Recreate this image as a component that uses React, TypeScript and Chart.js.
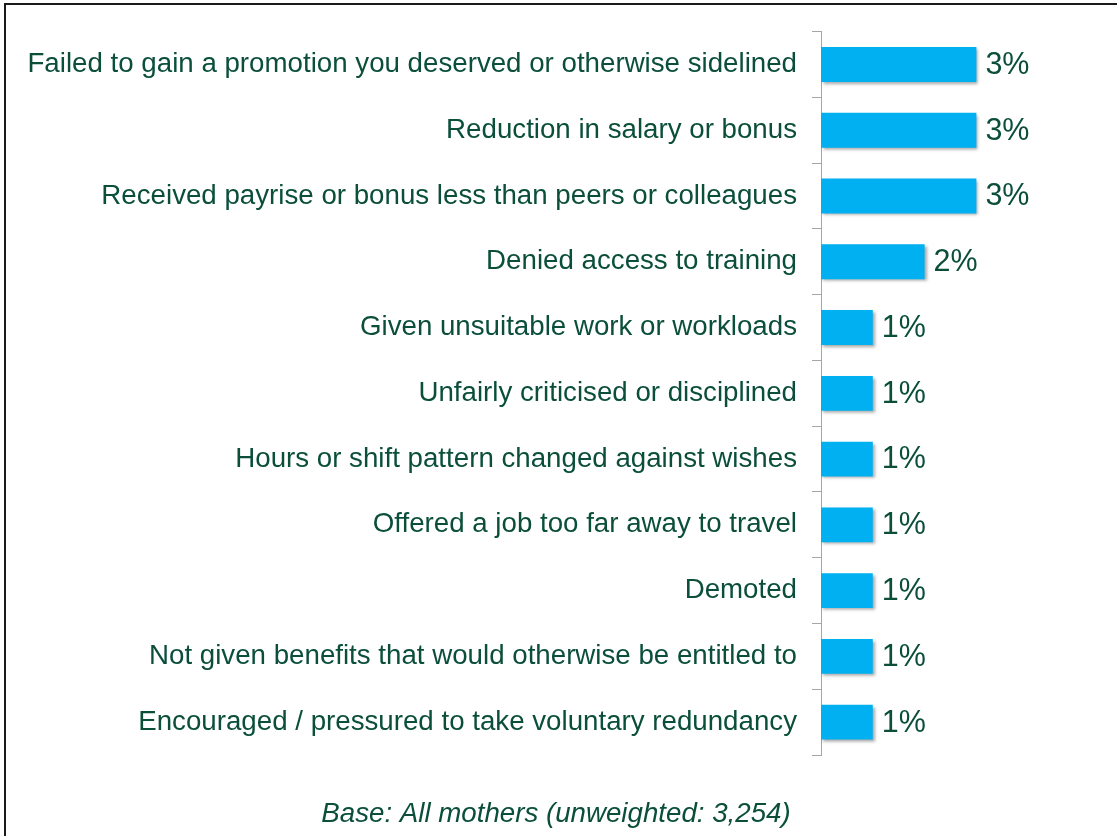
import React, { useEffect, useRef } from "react";
import { Chart, registerables } from "chart.js";

Chart.register(...registerables);

const categories: string[] = [
  "Failed to gain a promotion you deserved or otherwise sidelined",
  "Reduction in salary or bonus",
  "Received payrise or bonus less than peers or colleagues",
  "Denied access to training",
  "Given unsuitable work or workloads",
  "Unfairly criticised or disciplined",
  "Hours or shift pattern changed against wishes",
  "Offered a job too far away to travel",
  "Demoted",
  "Not given benefits that would otherwise be entitled to",
  "Encouraged / pressured to take voluntary redundancy",
];

const values: number[] = [3, 3, 3, 2, 1, 1, 1, 1, 1, 1, 1];

const footerText = "Base: All mothers (unweighted: 3,254)";

const TEXT_COLOR = "#0B4F3B";
const BAR_COLOR = "#00B0F0";
const AXIS_COLOR = "#A6A6A6";
const FONT = "'Liberation Sans', Arial, sans-serif";
const FONT_SIZE = 27.7;
const VALUE_FONT_SIZE = 30.5;

export default function App() {
  const canvasRef = useRef<HTMLCanvasElement | null>(null);

  useEffect(() => {
    document.body.style.margin = "0";
    const canvas = canvasRef.current;
    if (!canvas) return;

    const shadowPlugin = {
      id: "barShadow",
      beforeDatasetsDraw(chart: any) {
        const ctx = chart.ctx;
        ctx.save();
        ctx.shadowColor = "rgba(0,0,0,0.35)";
        ctx.shadowOffsetX = 2;
        ctx.shadowOffsetY = 2;
        ctx.shadowBlur = 3;
      },
      afterDatasetsDraw(chart: any) {
        chart.ctx.restore();
      },
    };

    const valueLabelPlugin = {
      id: "valueLabels",
      afterDatasetsDraw(chart: any) {
        const ctx = chart.ctx;
        const meta = chart.getDatasetMeta(0);
        ctx.save();
        ctx.fillStyle = TEXT_COLOR;
        ctx.font = `${VALUE_FONT_SIZE}px ${FONT}`;
        ctx.textAlign = "left";
        ctx.textBaseline = "middle";
        meta.data.forEach((bar: any, i: number) => {
          ctx.fillText(`${values[i]}%`, bar.x + 9, bar.y + 1);
        });
        ctx.restore();
      },
    };

    const framePlugin = {
      id: "frame",
      afterDraw(chart: any) {
        const ctx = chart.ctx;
        ctx.save();
        ctx.fillStyle = TEXT_COLOR;
        ctx.font = `italic ${FONT_SIZE}px ${FONT}`;
        ctx.textAlign = "center";
        ctx.textBaseline = "middle";
        ctx.fillText(footerText, 556, 814);
        ctx.strokeStyle = "#1a1a1a";
        ctx.lineWidth = 2;
        ctx.beginPath();
        ctx.moveTo(5, 840);
        ctx.lineTo(5, 4);
        ctx.lineTo(1120, 4);
        ctx.stroke();
        ctx.restore();
      },
    };

    const chart = new Chart(canvas, {
      type: "bar",
      data: {
        labels: categories,
        datasets: [
          {
            data: values,
            backgroundColor: BAR_COLOR,
            borderWidth: 0,
            barPercentage: 0.53,
            categoryPercentage: 1,
          },
        ],
      },
      options: {
        indexAxis: "y",
        animation: false,
        responsive: false,
        maintainAspectRatio: false,
        layout: { padding: { left: 0, right: 37, top: 29, bottom: 81 } },
        plugins: {
          legend: { display: false },
          tooltip: { enabled: false },
          title: { display: false },
        },
        scales: {
          x: {
            display: false,
            min: 0,
            max: 5,
          },
          y: {
            afterFit(scale: any) {
              scale.width = 821;
            },
            grid: {
              offset: true,
              drawOnChartArea: false,
              drawTicks: true,
              tickLength: 9,
              color: AXIS_COLOR,
              lineWidth: 1,
            },
            border: { display: true, color: AXIS_COLOR, width: 1 },
            ticks: {
              color: TEXT_COLOR,
              font: { family: FONT, size: FONT_SIZE },
              padding: 15,
              autoSkip: false,
            },
          },
        },
      },
      plugins: [shadowPlugin, valueLabelPlugin, framePlugin],
    });

    return () => chart.destroy();
  }, []);

  return <canvas ref={canvasRef} width={1117} height={836} style={{ display: "block" }} />;
}
